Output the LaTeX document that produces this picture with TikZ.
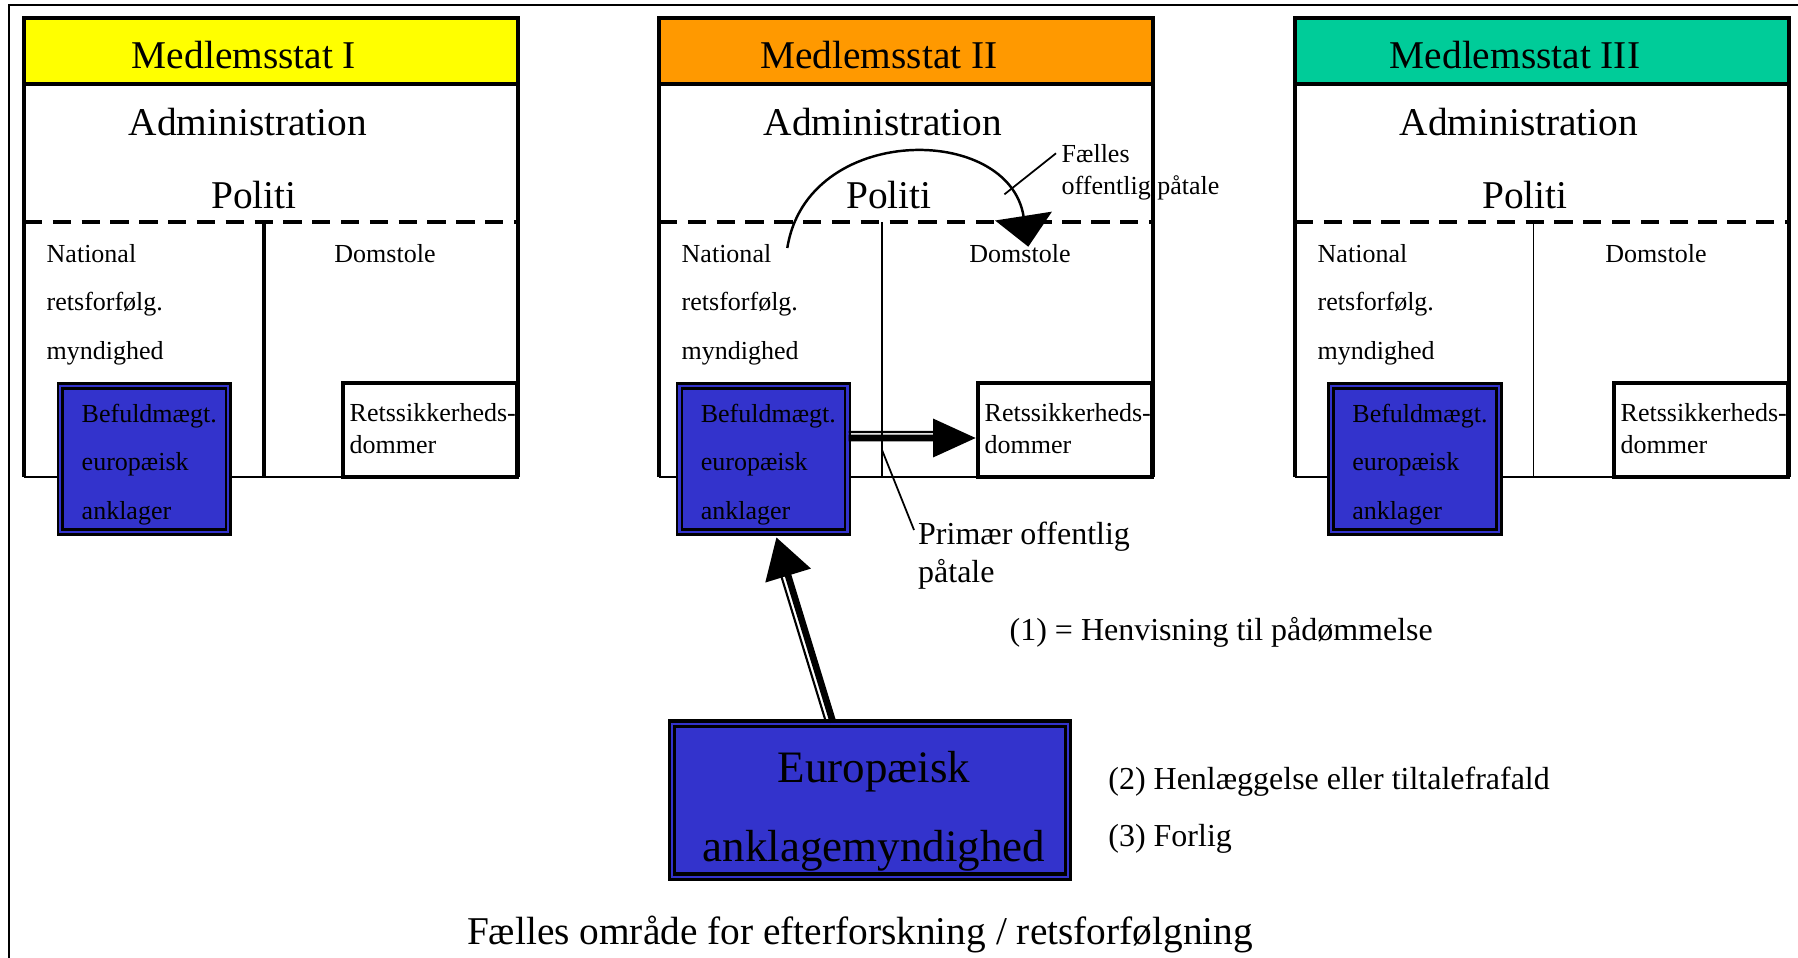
\documentclass[tikz,border=0pt]{standalone}
\usepackage{fontspec}
\setmainfont{Liberation Serif}
\usepackage{xcolor}
\usepackage{tikz}
\usetikzlibrary{arrows.meta,calc}

\definecolor{statyellow}{RGB}{255,255,0}
\definecolor{statorange}{RGB}{255,153,0}
\definecolor{statgreen}{RGB}{0,204,153}
\definecolor{eppoblue}{RGB}{51,51,204}

\begin{document}
\begin{tikzpicture}[
  big/.style={font=\fontsize{11.2}{13}\selectfont},
  huge/.style={font=\fontsize{12.8}{22.6}\selectfont},
  small/.style={font=\fontsize{7.4}{13.8}\selectfont},
  tight/.style={font=\fontsize{7.4}{9}\selectfont},
  mid/.style={font=\fontsize{9.1}{10.8}\selectfont},
  txt/.style={inner sep=0pt, anchor=base west},
  ctxt/.style={inner sep=0pt, anchor=base},
  boxline/.style={line width=1.1pt},
  thinline/.style={line width=0.5pt},
  bluebox/.style={fill=eppoblue, draw=black, double=eppoblue, line width=0.75pt, double distance=0.65pt, inner sep=0pt},
]

\useasboundingbox (0,0) rectangle (17.98,9.57);

\draw[line width=0.6pt] (0.09,-0.2)--(0.09,9.52)--(18.2,9.52);

\foreach \sx/\nr/\nm/\col/\dv/\dw/\bx in {0.24/1/I/statyellow/2.40/0.9pt/0.325, 6.59/2/II/statorange/2.23/0.45pt/0.166, 12.95/3/III/statgreen/2.385/0.45pt/0.322}{
\begin{scope}[xshift=\sx cm]

\fill[\col] (0,8.73) rectangle (4.94,9.39);
\draw[boxline] (0,8.73) rectangle (4.94,9.39);
\draw[boxline] (0,4.80)--(0,8.73) (4.94,8.73)--(4.94,4.80);
\draw[thinline] (0,4.80)--(4.94,4.80);
\draw[line width=1pt, dash pattern=on 5.2pt off 3pt] (0,7.35)--(4.94,7.35);
\draw[line width=\dw] (\dv,7.35)--(\dv,4.80);

\node[bluebox, minimum width=1.68cm, minimum height=1.46cm] (bef\nr) at (\bx+0.878,4.98) {};
\node[draw, boxline, minimum width=1.74cm, minimum height=0.94cm] (ret\nr) at (4.06,5.27) {};

\node[big, ctxt] (stat\nr) at (2.2,8.884) {Medlemsstat \nm};
\node[big, ctxt] (adm\nr) at (2.24,8.213) {Administration};
\node[big, ctxt] (pol\nr) at (2.30,7.49) {Politi};
\node[small, txt, align=left] (nat\nr) at (0.22,5.98) {National\\retsforfølg.\\myndighed};
\node[small, ctxt] (dom\nr) at (3.61,6.95) {Domstole};
\node[small, txt, align=left] (beftxt\nr) at (\bx+0.245,4.38) {Befuldmægt.\\europæisk\\anklager};
\node[tight, txt, align=left] (rettxt\nr) at (3.25,5.04) {Retssikkerheds-\\dommer};

\end{scope}
}

\node[bluebox, line width=0.9pt, double distance=0.7pt, minimum width=3.96cm, minimum height=1.53cm] (eppo) at (8.70,1.567) {};
\node[huge, ctxt, align=center] (eppotxt) at (8.74,0.955) {Europæisk\\anklagemyndighed};

\node[mid, txt, align=left] (primaer) at (9.175,3.75) {Primær offentlig\\påtale};
\node[tight, txt, align=left] (faelles) at (10.61,7.63) {Fælles\\offentlig påtale};
\node[mid, txt] (henv) at (10.09,3.165) {(1) = Henvisning til pådømmelse};
\node[mid, txt] (henl) at (11.077,1.675) {(2) Henlæggelse eller tiltalefrafald};
\node[mid, txt] (forlig) at (11.077,1.11) {(3) Forlig};
\node[big, ctxt] (omraade) at (8.60,0.13) {Fælles område for efterforskning / retsforfølgning};

\coordinate (buestart) at (7.873,7.09);
\coordinate (buespids) at (10.283,7.103);
\coordinate (faellesend) at (10.56,8.037);
\coordinate (delepunkt) at (8.82,5.07);
\coordinate (primaerend) at (9.14,4.27);
\coordinate (eppofod) at ([xshift=-0.37cm]eppo.north);
\coordinate (befspids) at ([xshift=0.13cm,yshift=-0.04cm]bef2.south);

\draw[line width=0.7pt, -{Triangle[length=0.31cm,width=0.57cm]}] (buestart) .. controls (8.07,8.34) and (10.09,8.34) .. (buespids) coordinate[pos=0.83] (bueknaek);
\draw[thinline] (bueknaek)--(faellesend);
\draw[thinline] (delepunkt)--(primaerend);

\draw[line width=1.9pt, -{Triangle[length=0.43cm,width=0.37cm]}] ([yshift=0.21cm]bef2.east) -- ([yshift=-0.08cm]ret2.west);
\draw[line width=0.6pt] ([yshift=0.27cm]bef2.east) -- ([xshift=-0.42cm,yshift=-0.02cm]ret2.west);

\draw[line width=1.9pt, -{Triangle[length=0.40cm,width=0.46cm]}] (eppofod) -- (befspids);
\draw[line width=0.6pt] ([xshift=-0.07cm]eppofod) -- ($($(befspids)!0.40cm!(eppofod)$)+(-0.07,0)$);

\end{tikzpicture}
\end{document}
